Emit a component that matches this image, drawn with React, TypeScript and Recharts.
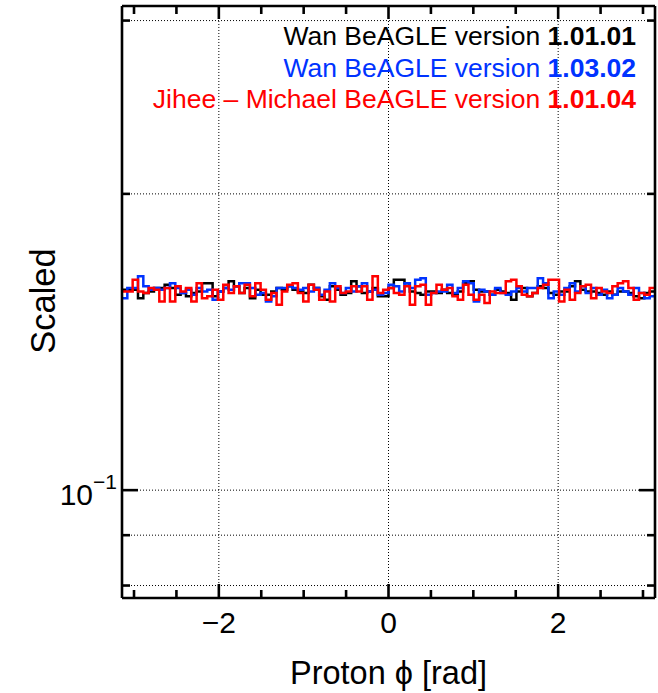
import React from 'react';
import { ComposedChart, Line, XAxis, YAxis, ReferenceLine } from 'recharts';

// Histogram binning in azimuthal angle
const PHI_MIN = -Math.PI;
const PHI_MAX = Math.PI;
const N_BINS = 100;

// Normalised bin contents (per rad), one array per generator version
const wan10101 = [
  0.1598, 0.1598, 0.1598, 0.1567, 0.1586, 0.1592, 0.1605, 0.1605, 0.1617, 0.1605,
  0.1580, 0.1586, 0.1574, 0.1586, 0.1592, 0.1623, 0.1623, 0.1574, 0.1592, 0.1605,
  0.1630, 0.1611, 0.1586, 0.1605, 0.1567, 0.1598, 0.1580, 0.1580, 0.1592, 0.1605,
  0.1598, 0.1611, 0.1598, 0.1592, 0.1586, 0.1617, 0.1605, 0.1574, 0.1561, 0.1611,
  0.1598, 0.1580, 0.1586, 0.1630, 0.1611, 0.1586, 0.1592, 0.1605, 0.1574, 0.1574,
  0.1605, 0.1636, 0.1636, 0.1623, 0.1592, 0.1586, 0.1580, 0.1592, 0.1592, 0.1586,
  0.1598, 0.1586, 0.1580, 0.1592, 0.1623, 0.1630, 0.1598, 0.1592, 0.1592, 0.1580,
  0.1598, 0.1592, 0.1586, 0.1561, 0.1592, 0.1605, 0.1574, 0.1586, 0.1611, 0.1605,
  0.1586, 0.1580, 0.1592, 0.1592, 0.1611, 0.1630, 0.1598, 0.1592, 0.1592, 0.1586,
  0.1580, 0.1592, 0.1580, 0.1592, 0.1592, 0.1586, 0.1574, 0.1567, 0.1586, 0.1592,
];

const wan10302 = [
  0.1567, 0.1605, 0.1605, 0.1649, 0.1611, 0.1598, 0.1605, 0.1598, 0.1605, 0.1623,
  0.1605, 0.1586, 0.1598, 0.1580, 0.1605, 0.1592, 0.1598, 0.1561, 0.1592, 0.1605,
  0.1598, 0.1611, 0.1623, 0.1623, 0.1605, 0.1580, 0.1586, 0.1555, 0.1574, 0.1605,
  0.1605, 0.1611, 0.1605, 0.1598, 0.1605, 0.1592, 0.1605, 0.1580, 0.1598, 0.1623,
  0.1605, 0.1586, 0.1605, 0.1592, 0.1611, 0.1623, 0.1592, 0.1598, 0.1580, 0.1586,
  0.1617, 0.1611, 0.1592, 0.1623, 0.1605, 0.1636, 0.1642, 0.1580, 0.1586, 0.1592,
  0.1592, 0.1617, 0.1586, 0.1605, 0.1630, 0.1623, 0.1555, 0.1598, 0.1592, 0.1580,
  0.1605, 0.1586, 0.1580, 0.1592, 0.1605, 0.1592, 0.1605, 0.1605, 0.1642, 0.1623,
  0.1567, 0.1592, 0.1580, 0.1605, 0.1623, 0.1592, 0.1611, 0.1586, 0.1605, 0.1580,
  0.1598, 0.1567, 0.1580, 0.1605, 0.1592, 0.1580, 0.1605, 0.1586, 0.1567, 0.1574,
];

const jiheeMichael10104 = [
  0.1592, 0.1592, 0.1636, 0.1592, 0.1586, 0.1605, 0.1598, 0.1555, 0.1605, 0.1555,
  0.1611, 0.1592, 0.1605, 0.1555, 0.1623, 0.1567, 0.1574, 0.1598, 0.1561, 0.1617,
  0.1586, 0.1611, 0.1586, 0.1617, 0.1574, 0.1623, 0.1598, 0.1561, 0.1586, 0.1543,
  0.1592, 0.1617, 0.1623, 0.1586, 0.1555, 0.1617, 0.1598, 0.1561, 0.1592, 0.1555,
  0.1611, 0.1586, 0.1592, 0.1611, 0.1592, 0.1611, 0.1561, 0.1649, 0.1586, 0.1598,
  0.1605, 0.1586, 0.1580, 0.1611, 0.1543, 0.1611, 0.1617, 0.1543, 0.1586, 0.1617,
  0.1598, 0.1605, 0.1574, 0.1561, 0.1617, 0.1580, 0.1561, 0.1580, 0.1549, 0.1592,
  0.1586, 0.1586, 0.1630, 0.1636, 0.1611, 0.1580, 0.1574, 0.1586, 0.1605, 0.1617,
  0.1636, 0.1636, 0.1555, 0.1598, 0.1561, 0.1586, 0.1611, 0.1617, 0.1567, 0.1605,
  0.1592, 0.1586, 0.1611, 0.1623, 0.1630, 0.1605, 0.1561, 0.1586, 0.1580, 0.1605,
];

// Legend entries: label, bold version tag, colour, data key
const seriesLabels = ['Wan BeAGLE version ', 'Wan BeAGLE version ', 'Jihee \u2013 Michael BeAGLE version '];
const seriesVersions = ['1.01.01', '1.03.02', '1.01.04'];
const seriesColors = ['#000000', '#0033ff', '#ff0000'];
const seriesKeys = ['v10101', 'v10302', 'v10104'];

// Axis ticks
const xTicks = [-3, -2.5, -2, -1.5, -1, -0.5, 0, 0.5, 1, 1.5, 2, 2.5, 3];
const xLabelled = [-2, 0, 2];
const yTicks = [0.08, 0.09, 0.1, 0.2, 0.3];
const yLabelled = [0.1];
const Y_DOMAIN: [number, number] = [0.0777, 0.3104];

const FONT = '"Liberation Sans", Arial, Helvetica, sans-serif';
const FRAME_W = 2.6;

// Step-histogram rows: one row per bin edge, last edge repeats the last bin
const binWidth = (PHI_MAX - PHI_MIN) / N_BINS;
const rows = Array.from({ length: N_BINS + 1 }, (_, i) => {
  const b = Math.min(i, N_BINS - 1);
  return {
    phi: PHI_MIN + i * binWidth,
    v10101: wan10101[b],
    v10302: wan10302[b],
    v10104: jiheeMichael10104[b],
  };
});

const fmtX = (v: number) => (v < 0 ? '\u2212' + Math.abs(v) : String(v));

const BottomTick = (props: any) => {
  const { x, y, payload } = props;
  const major = xLabelled.includes(payload.value);
  return (
    <g>
      <line x1={x} x2={x} y1={y} y2={y - (major ? 14 : 8)} stroke="#000" strokeWidth={FRAME_W} />
      {major && (
        <text x={x} y={y + 35} textAnchor="middle" fontSize={30} fontFamily={FONT} fill="#000">
          {fmtX(payload.value)}
        </text>
      )}
    </g>
  );
};

const TopTick = (props: any) => {
  const { x, y, payload } = props;
  const major = xLabelled.includes(payload.value);
  return <line x1={x} x2={x} y1={y} y2={y + (major ? 13 : 8)} stroke="#000" strokeWidth={FRAME_W} />;
};

const LeftTick = (props: any) => {
  const { x, y, payload } = props;
  const major = yLabelled.includes(payload.value);
  return (
    <g>
      <line x1={x} x2={x + (major ? 16 : 8)} y1={y} y2={y} stroke="#000" strokeWidth={FRAME_W} />
      {major && (
        <g fontFamily={FONT} fill="#000">
          <text x={x - 29} y={y + 15} textAnchor="end" fontSize={30}>10</text>
          <text x={x - 29} y={y - 1} textAnchor="start" fontSize={21}>{'\u22121'}</text>
        </g>
      )}
    </g>
  );
};

const RightTick = (props: any) => {
  const { x, y, payload } = props;
  const major = yLabelled.includes(payload.value);
  return <line x1={x} x2={x - (major ? 16 : 8)} y1={y} y2={y} stroke="#000" strokeWidth={FRAME_W} />;
};

const W = 658;
const H = 693;

export default function App() {
  return (
    <div style={{ position: 'absolute', left: 0, top: 0, width: W, height: H, background: '#fff' }}>
      <ComposedChart width={W} height={H} data={rows} margin={{ top: 5, right: 2, bottom: 0, left: 0 }}>
        <XAxis
          dataKey="phi"
          type="number"
          domain={[PHI_MIN, PHI_MAX]}
          allowDataOverflow
          ticks={xTicks}
          interval={0}
          height={95}
          tickSize={0}
          tickMargin={0}
          tickLine={false}
          axisLine={{ stroke: '#000', strokeWidth: FRAME_W }}
          tick={<BottomTick />}
        />
        <XAxis
          xAxisId="top"
          orientation="top"
          dataKey="phi"
          type="number"
          domain={[PHI_MIN, PHI_MAX]}
          allowDataOverflow
          ticks={xTicks}
          interval={0}
          height={1}
          tickSize={0}
          tickMargin={0}
          tickLine={false}
          axisLine={{ stroke: '#000', strokeWidth: FRAME_W }}
          tick={<TopTick />}
        />
        <YAxis
          scale="log"
          type="number"
          domain={Y_DOMAIN}
          allowDataOverflow
          ticks={yTicks}
          interval={0}
          width={122}
          tickSize={0}
          tickMargin={0}
          tickLine={false}
          axisLine={{ stroke: '#000', strokeWidth: FRAME_W }}
          tick={<LeftTick />}
        />
        <YAxis
          yAxisId="right"
          orientation="right"
          scale="log"
          type="number"
          domain={Y_DOMAIN}
          allowDataOverflow
          ticks={yTicks}
          interval={0}
          width={1}
          tickSize={0}
          tickMargin={0}
          tickLine={false}
          axisLine={{ stroke: '#000', strokeWidth: FRAME_W }}
          tick={<RightTick />}
        />
        {xLabelled.map((v) => (
          <ReferenceLine key={'gx' + v} x={v} stroke="#000" strokeWidth={1} strokeDasharray="1 2" />
        ))}
        {yTicks.map((v) => (
          <ReferenceLine key={'gy' + v} y={v} stroke="#000" strokeWidth={1} strokeDasharray="1 2" />
        ))}
        {seriesKeys.map((k, i) => (
          <Line
            key={k}
            dataKey={k}
            type="stepAfter"
            stroke={seriesColors[i]}
            strokeWidth={2.5}
            dot={false}
            activeDot={false}
            isAnimationActive={false}
          />
        ))}
      </ComposedChart>
      <svg
        width={W}
        height={H}
        style={{ position: 'absolute', left: 0, top: 0, pointerEvents: 'none' }}
        fontFamily={FONT}
      >
        {seriesKeys.map((k, i) => (
          <text key={k} x={636} y={45 + i * 31.5} textAnchor="end" fontSize={26.5} fill={seriesColors[i]}>
            {seriesLabels[i]}
            <tspan fontWeight="bold">{seriesVersions[i]}</tspan>
          </text>
        ))}
        <text x={388.5} y={684} textAnchor="middle" fontSize={32.5} fill="#000">
          {'Proton \u03D5 [rad]'}
        </text>
        <text x={55} y={301} textAnchor="middle" fontSize={34.5} fill="#000" transform="rotate(-90 55 301)">
          Scaled
        </text>
      </svg>
    </div>
  );
}
